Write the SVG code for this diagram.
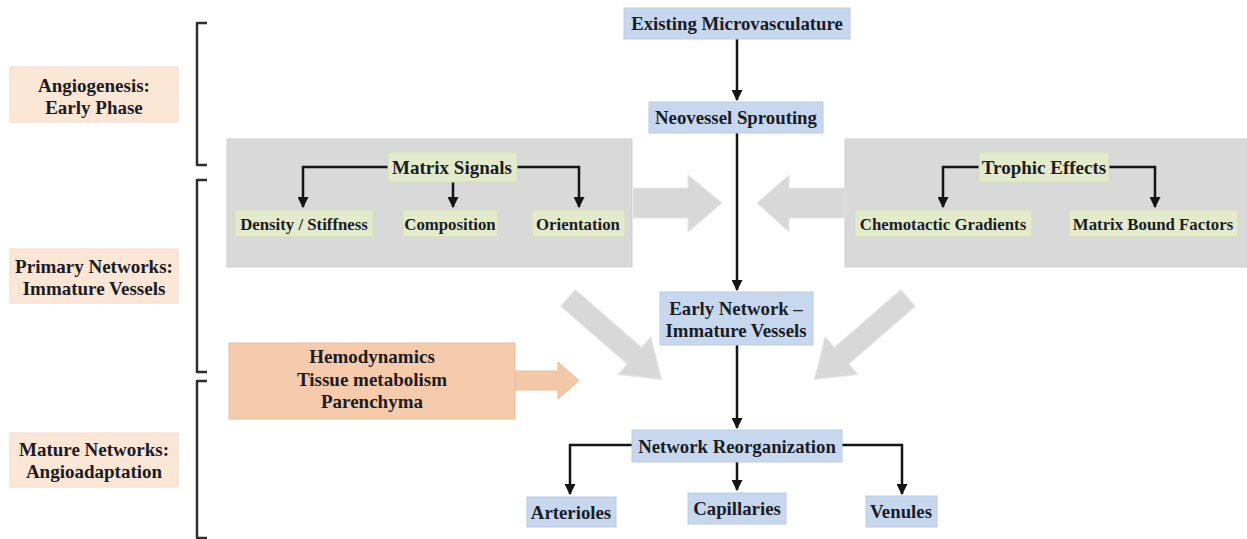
<svg xmlns="http://www.w3.org/2000/svg" width="1247" height="539" viewBox="0 0 1247 539">
<defs>
<style>
.t{font-family:"Liberation Serif","Times New Roman",serif;font-weight:bold;fill:#1a1c26;text-anchor:middle}
.s19{font-size:19px}
.s18{font-size:18.8px}
.s17{font-size:16.8px}
.lbl{fill:#fce6d6;stroke:#f3d9c6;stroke-width:1}
.blue{fill:#c7d7ee;stroke:#b9cbe4;stroke-width:1}
.green{fill:#e4ebcc;stroke:#d3dcb6;stroke-width:1}
.panel{fill:#d9d9d9;stroke:#cfcfcf;stroke-width:1}
.garrow{fill:#d8d8d8;stroke:#e6e6e6;stroke-width:1}
.con{fill:none;stroke:#141414;stroke-width:2.5}
.br{fill:none;stroke:#2e2e2e;stroke-width:2.5;stroke-linejoin:round}
</style>
<marker id="ah" viewBox="0 0 10 10" refX="9" refY="5" markerWidth="4.4" markerHeight="4.4" orient="auto" markerUnits="strokeWidth">
<path d="M0,0 L10,5 L0,10 Z" fill="#141414"/>
</marker>
</defs>
<rect width="1247" height="539" fill="#ffffff"/>

<g id="brackets">
<path class="br" d="M207,23 L197,23 L197,165 L207,165"/>
<path class="br" d="M207,180 L197,180 L197,372 L207,372"/>
<path class="br" d="M207,381 L197,381 L197,538 L207,538"/>
</g>

<g id="label-angiogenesis">
<rect class="lbl" x="10" y="67" width="168" height="55"/>
<text class="t s19" x="94" y="92">Angiogenesis:</text>
<text class="t s19" x="94" y="114">Early Phase</text>
</g>
<g id="label-primary">
<rect class="lbl" x="10" y="249" width="168" height="54"/>
<text class="t s19" x="94" y="273">Primary Networks:</text>
<text class="t s19" x="94" y="295">Immature Vessels</text>
</g>
<g id="label-mature">
<rect class="lbl" x="10" y="433" width="168" height="54"/>
<text class="t s19" x="94" y="456">Mature Networks:</text>
<text class="t s19" x="94" y="478">Angioadaptation</text>
</g>

<g id="panel-matrix">
<rect class="panel" x="227" y="139" width="405" height="128"/>
</g>
<g id="panel-trophic">
<rect class="panel" x="845" y="139" width="410" height="128"/>
</g>

<g id="block-arrows">
<path class="garrow" d="M633,188 L688,188 L688,175 L722,203 L688,232 L688,218 L633,218 Z"/>
<path class="garrow" d="M845,188 L789,188 L789,175 L757,203 L789,232 L789,218 L845,218 Z"/>
<path class="garrow" transform="translate(568,298) rotate(41)" d="M0,-11 L88,-11 L88,-25 L124,0 L88,25 L88,11 L0,11 Z"/>
<path class="garrow" transform="translate(908,298) rotate(139)" d="M0,-11 L88,-11 L88,-25 L124,0 L88,25 L88,11 L0,11 Z"/>
<path d="M515,371 L558,371 L558,362 L579,380.5 L558,399 L558,390 L515,390 Z" fill="#f3c8a6" stroke="#ecbf9b" stroke-width="1"/>
</g>

<g id="connectors">
<line class="con" x1="737" y1="39" x2="737" y2="100" marker-end="url(#ah)"/>
<line class="con" x1="737" y1="133" x2="737" y2="290" marker-end="url(#ah)"/>
<line class="con" x1="737" y1="345" x2="737" y2="428" marker-end="url(#ah)"/>
<path class="con" d="M388,167 L303,167 L303,207" marker-end="url(#ah)"/>
<line class="con" x1="453" y1="182" x2="453" y2="207" marker-end="url(#ah)"/>
<path class="con" d="M517,167 L579,167 L579,207" marker-end="url(#ah)"/>
<path class="con" d="M979,167 L943,167 L943,207" marker-end="url(#ah)"/>
<path class="con" d="M1109,167 L1155,167 L1155,207" marker-end="url(#ah)"/>
<path class="con" d="M632,445 L570,445 L570,494" marker-end="url(#ah)"/>
<line class="con" x1="737" y1="462" x2="737" y2="490" marker-end="url(#ah)"/>
<path class="con" d="M842,445 L902,445 L902,494" marker-end="url(#ah)"/>
</g>

<g id="node-existing">
<rect class="blue" x="624" y="8" width="226" height="31"/>
<text class="t s18" x="737" y="30">Existing Microvasculature</text>
</g>
<g id="node-neovessel">
<rect class="blue" x="649" y="102" width="174" height="31"/>
<text class="t s18" x="736" y="124">Neovessel Sprouting</text>
</g>
<g id="node-matrix">
<rect class="green" x="388" y="152" width="129" height="30"/>
<text class="t s19" x="452" y="173.5">Matrix Signals</text>
</g>
<g id="node-density">
<rect class="green" x="235" y="210" width="138" height="27"/>
<text class="t s17" x="304" y="229.5">Density / Stiffness</text>
</g>
<g id="node-composition">
<rect class="green" x="403" y="210" width="95" height="27"/>
<text class="t s17" x="450" y="229.5">Composition</text>
</g>
<g id="node-orientation">
<rect class="green" x="532" y="210" width="93" height="27"/>
<text class="t s17" x="578" y="229.5">Orientation</text>
</g>
<g id="node-trophic">
<rect class="green" x="979" y="152" width="130" height="30"/>
<text class="t s19" x="1044" y="173.5">Trophic Effects</text>
</g>
<g id="node-chemotactic">
<rect class="green" x="855" y="210" width="177" height="27"/>
<text class="t s17" x="943" y="229.5">Chemotactic Gradients</text>
</g>
<g id="node-matrixbound">
<rect class="green" x="1069" y="210" width="169" height="27"/>
<text class="t s17" x="1153" y="229.5">Matrix Bound Factors</text>
</g>
<g id="node-hemodynamics">
<rect x="229" y="343" width="286" height="76" fill="#f5cbab" stroke="#e9bd9c" stroke-width="1"/>
<text class="t s19" x="372" y="363">Hemodynamics</text>
<text class="t s19" x="372" y="386">Tissue metabolism</text>
<text class="t s19" x="372" y="408">Parenchyma</text>
</g>
<g id="node-early">
<rect class="blue" x="660" y="292" width="153" height="53"/>
<text class="t s18" x="736" y="315">Early Network –</text>
<text class="t s18" x="736" y="337">Immature Vessels</text>
</g>
<g id="node-reorg">
<rect class="blue" x="632" y="430" width="210" height="32"/>
<text class="t s18" x="737" y="452.5">Network Reorganization</text>
</g>
<g id="node-arterioles">
<rect class="blue" x="527" y="497" width="89" height="30"/>
<text class="t s18" x="571" y="518.5">Arterioles</text>
</g>
<g id="node-capillaries">
<rect class="blue" x="688" y="493" width="98" height="31"/>
<text class="t s18" x="737" y="515">Capillaries</text>
</g>
<g id="node-venules">
<rect class="blue" x="866" y="496" width="71" height="31"/>
<text class="t s18" x="901" y="518">Venules</text>
</g>
</svg>
